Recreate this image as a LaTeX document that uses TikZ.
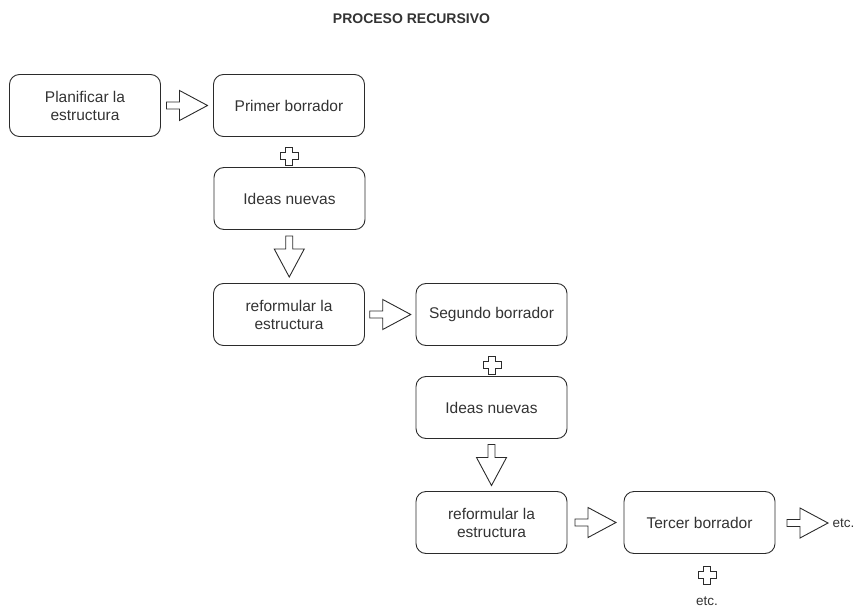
\documentclass[tikz,border=0pt]{standalone}
\usepackage{fontspec}
\setmainfont{Liberation Sans}
\usepackage{xcolor}
\usetikzlibrary{calc}

\definecolor{linea}{HTML}{2B2B2B}
\definecolor{texto}{HTML}{333333}

\tikzset{
	paso/.style={draw=linea, line width=0.9pt, rounded corners=10pt, minimum width=151pt, minimum height=62pt, align=center, text=texto, font=\fontsize{15.5}{18}\selectfont},
	nota/.style={text=texto, font=\fontsize{13.5}{15}\selectfont},
	flecha/.pic={\draw[draw=linea, line width=0.9pt] (-20.5,-3.5) -- (-7.5,-3.5) -- (-7.5,-15) -- (20.5,0) -- (-7.5,15) -- (-7.5,3.5) -- (-20.5,3.5) -- cycle;},
	cruz/.pic={\draw[draw=linea, line width=0.9pt] (-3.5,-9) -- (3.5,-9) -- (3.5,-3.5) -- (9,-3.5) -- (9,3.5) -- (3.5,3.5) -- (3.5,9) -- (-3.5,9) -- (-3.5,3.5) -- (-9,3.5) -- (-9,-3.5) -- (-3.5,-3.5) -- cycle;}
}

\begin{document}
\begin{tikzpicture}[x=1pt, y=-1pt]
	\useasboundingbox (0,0) rectangle (866,609);
	\node[text=texto, font=\fontsize{14}{16}\selectfont\bfseries] (titulo) at (411.5,19) {PROCESO RECURSIVO};
	% primera vuelta
	\node[paso] (plan) at (85,105.5) {Planificar la\\estructura};
	\node[paso] (primer) at (289,105.5) {Primer borrador};
	\node[paso] (ideasA) at (289.5,198.5) {Ideas nuevas};
	\node[paso] (reformA) at (289,314.5) {reformular la\\estructura};
	\pic (fA) at ($(plan.east)!0.5!(primer.west)$) {flecha};
	\pic (masA) at (289,156) {cruz};
	\pic[rotate=-90] (bA) at ($(ideasA.south)!0.5!(reformA.north)$) {flecha};
	% segunda vuelta
	\node[paso] (segundo) at (491.5,314.5) {Segundo borrador};
	\node[paso] (ideasB) at (491.5,407.5) {Ideas nuevas};
	\node[paso] (reformB) at (491.5,522.5) {reformular la\\estructura};
	\pic (fB) at ($(reformA.east)!0.5!(segundo.west)$) {flecha};
	\pic (masB) at (492,365) {cruz};
	\pic[rotate=-90] (bB) at ($(ideasB.south)!0.5!(reformB.north)$) {flecha};
	% tercera vuelta
	\node[paso] (tercer) at (699.5,522.5) {Tercer borrador};
	\node[nota] (etcA) at (843.5,523) {etc.};
	\pic (fC) at ($(reformB.east)!0.5!(tercer.west)$) {flecha};
	\pic (fD) at (807.5,523) {flecha};
	\pic (masC) at (707,575) {cruz};
	\node[nota] (etcB) at (707,601) {etc.};
\end{tikzpicture}
\end{document}
